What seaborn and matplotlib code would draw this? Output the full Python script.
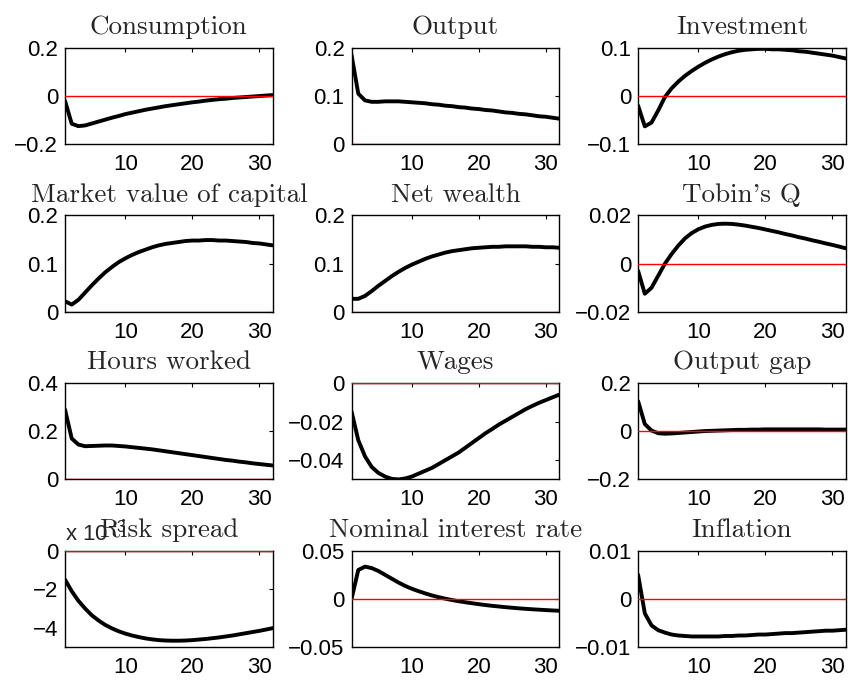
import numpy as np
import pandas as pd
import matplotlib
matplotlib.use("Agg")
import matplotlib.pyplot as plt
import seaborn as sns
from matplotlib.ticker import FuncFormatter

# --- data: impulse responses, periods 1..32 ---
periods = list(range(1, 33))

consumption = [-0.020, -0.115, -0.125, -0.122, -0.114, -0.106, -0.098, -0.090,
               -0.083, -0.075, -0.069, -0.063, -0.057, -0.052, -0.047, -0.042,
               -0.038, -0.034, -0.030, -0.026, -0.023, -0.019, -0.016, -0.013,
               -0.011, -0.008, -0.006, -0.004, -0.002, 0.000, 0.002, 0.004]
output = [0.185, 0.105, 0.091, 0.088, 0.088, 0.089, 0.089, 0.089,
          0.088, 0.087, 0.086, 0.085, 0.083, 0.082, 0.080, 0.079,
          0.077, 0.076, 0.074, 0.073, 0.071, 0.070, 0.068, 0.066,
          0.065, 0.063, 0.062, 0.060, 0.058, 0.057, 0.055, 0.053]
investment = [-0.020, -0.063, -0.055, -0.030, -0.002, 0.016, 0.030, 0.042,
              0.052, 0.061, 0.069, 0.076, 0.082, 0.087, 0.091, 0.094,
              0.096, 0.097, 0.098, 0.098, 0.097, 0.097, 0.096, 0.095,
              0.093, 0.092, 0.090, 0.088, 0.086, 0.084, 0.081, 0.078]
market_value = [0.022, 0.015, 0.025, 0.040, 0.055, 0.069, 0.082, 0.093,
                0.103, 0.111, 0.118, 0.124, 0.129, 0.134, 0.138, 0.141,
                0.143, 0.145, 0.147, 0.148, 0.148, 0.149, 0.149, 0.148,
                0.148, 0.147, 0.146, 0.145, 0.143, 0.142, 0.140, 0.138]
net_wealth = [0.027, 0.027, 0.033, 0.043, 0.054, 0.064, 0.074, 0.083,
              0.091, 0.098, 0.104, 0.110, 0.115, 0.119, 0.123, 0.126,
              0.128, 0.130, 0.132, 0.133, 0.134, 0.135, 0.135, 0.136,
              0.136, 0.136, 0.136, 0.135, 0.135, 0.134, 0.134, 0.133]
tobins_q = [-0.0030, -0.0125, -0.0100, -0.0050, 0.0000, 0.0040, 0.0075, 0.0105,
            0.0127, 0.0143, 0.0154, 0.0161, 0.0165, 0.0166, 0.0165, 0.0162,
            0.0158, 0.0153, 0.0148, 0.0142, 0.0136, 0.0130, 0.0123, 0.0117,
            0.0110, 0.0104, 0.0097, 0.0091, 0.0084, 0.0078, 0.0071, 0.0064]
hours = [0.290, 0.170, 0.145, 0.138, 0.139, 0.140, 0.141, 0.141,
         0.139, 0.137, 0.134, 0.131, 0.128, 0.125, 0.121, 0.117,
         0.113, 0.109, 0.105, 0.101, 0.097, 0.093, 0.089, 0.085,
         0.081, 0.078, 0.074, 0.071, 0.067, 0.064, 0.061, 0.058]
wages = [-0.0148, -0.0296, -0.0380, -0.0435, -0.0466, -0.0485, -0.0497, -0.0500,
         -0.0495, -0.0485, -0.0470, -0.0455, -0.0440, -0.0420, -0.0400, -0.0380,
         -0.0360, -0.0335, -0.0310, -0.0285, -0.0260, -0.0238, -0.0215, -0.0195,
         -0.0175, -0.0155, -0.0135, -0.0118, -0.0102, -0.0088, -0.0074, -0.0060]
output_gap = [0.125, 0.030, 0.003, -0.008, -0.010, -0.009, -0.007, -0.005,
              -0.003, -0.001, 0.001, 0.002, 0.003, 0.004, 0.005, 0.006,
              0.006, 0.007, 0.007, 0.008, 0.008, 0.008, 0.008, 0.008,
              0.008, 0.008, 0.008, 0.008, 0.007, 0.007, 0.007, 0.007]
risk_spread = [-1.50e-3, -2.10e-3, -2.60e-3, -3.00e-3, -3.35e-3, -3.62e-3, -3.85e-3, -4.03e-3,
               -4.18e-3, -4.30e-3, -4.40e-3, -4.48e-3, -4.55e-3, -4.60e-3, -4.64e-3, -4.66e-3,
               -4.67e-3, -4.67e-3, -4.66e-3, -4.64e-3, -4.61e-3, -4.58e-3, -4.54e-3, -4.50e-3,
               -4.45e-3, -4.40e-3, -4.34e-3, -4.28e-3, -4.22e-3, -4.16e-3, -4.09e-3, -4.02e-3]
nominal_rate = [0.0000, 0.0300, 0.0335, 0.0320, 0.0290, 0.0250, 0.0210, 0.0170,
                0.0135, 0.0105, 0.0080, 0.0057, 0.0036, 0.0018, 0.0002, -0.0012,
                -0.0024, -0.0035, -0.0045, -0.0055, -0.0064, -0.0072, -0.0079, -0.0086,
                -0.0092, -0.0098, -0.0103, -0.0108, -0.0112, -0.0116, -0.0120, -0.0123]
inflation = [0.0050, -0.0030, -0.0055, -0.0065, -0.0070, -0.0074, -0.0076, -0.0077,
             -0.0078, -0.0078, -0.0078, -0.0078, -0.0078, -0.0077, -0.0077, -0.0076,
             -0.0076, -0.0075, -0.0074, -0.0074, -0.0073, -0.0072, -0.0071, -0.0071,
             -0.0070, -0.0069, -0.0068, -0.0067, -0.0066, -0.0066, -0.0065, -0.0064]

titles = ["Consumption", "Output", "Investment",
          "Market value of capital", "Net wealth", "Tobin's Q",
          "Hours worked", "Wages", "Output gap",
          "Risk spread", "Nominal interest rate", "Inflation"]
series = [consumption, output, investment,
          market_value, net_wealth, tobins_q,
          hours, wages, output_gap,
          risk_spread, nominal_rate, inflation]
ylims = [(-0.2, 0.2), (0, 0.2), (-0.1, 0.1),
         (0, 0.2), (0, 0.2), (-0.02, 0.02),
         (0, 0.4), (-0.05, 0), (-0.2, 0.2),
         (-5e-3, 0), (-0.05, 0.05), (-0.01, 0.01)]
yticks = [[-0.2, 0, 0.2], [0, 0.1, 0.2], [-0.1, 0, 0.1],
          [0, 0.1, 0.2], [0, 0.1, 0.2], [-0.02, 0, 0.02],
          [0, 0.2, 0.4], [-0.04, -0.02, 0], [-0.2, 0, 0.2],
          [-4e-3, -2e-3, 0], [-0.05, 0, 0.05], [-0.01, 0, 0.01]]
xticks = [10, 20, 30]

sns.set_style("white")
plt.rcParams["font.family"] = ["Liberation Sans", "DejaVu Sans"]
plt.rcParams["mathtext.fontset"] = "custom"
plt.rcParams["mathtext.rm"] = "Liberation Sans"

fig, axes = plt.subplots(4, 3, figsize=(8.5, 6.84), dpi=100)
fig.subplots_adjust(left=0.0765, right=0.995, bottom=0.054, top=0.930,
                    wspace=0.38, hspace=0.74)


def fmt_plain(v, pos):
    if abs(v) < 1e-12:
        return "0"
    return f"{v:g}".replace("-", "\u2212")


for i, ax in enumerate(axes.flat):
    df = pd.DataFrame({"t": periods, "v": series[i]})
    sns.lineplot(data=df, x="t", y="v", ax=ax, color="black", lw=2.8)
    ax.axhline(0, color="red", lw=1.0, zorder=3)
    ax.set_xlim(1, 32)
    ax.set_ylim(*ylims[i])
    ax.set_xticks(xticks)
    ax.set_yticks(yticks[i])
    ax.set_xlabel("")
    ax.set_ylabel("")
    ax.set_title(titles[i], fontfamily="cmr10", fontsize=19.5, pad=10)
    ax.tick_params(direction="in", length=3, width=0.8, top=True, right=True,
                   labelsize=16, colors="black")
    ax.tick_params(axis="x", pad=7)
    ax.tick_params(axis="y", pad=5)
    for s in ax.spines.values():
        s.set_color("black")
        s.set_linewidth(1.0)
    if titles[i] == "Risk spread":
        ax.yaxis.set_major_formatter(FuncFormatter(lambda v, p: fmt_plain(v * 1e3, p)))
        ax.text(0.0, 1.05, "x 10$^{\\rm{-3}}$", transform=ax.transAxes,
                ha="left", va="bottom", fontsize=16)
    else:
        ax.yaxis.set_major_formatter(FuncFormatter(fmt_plain))

fig.savefig("out.png", dpi=100)
